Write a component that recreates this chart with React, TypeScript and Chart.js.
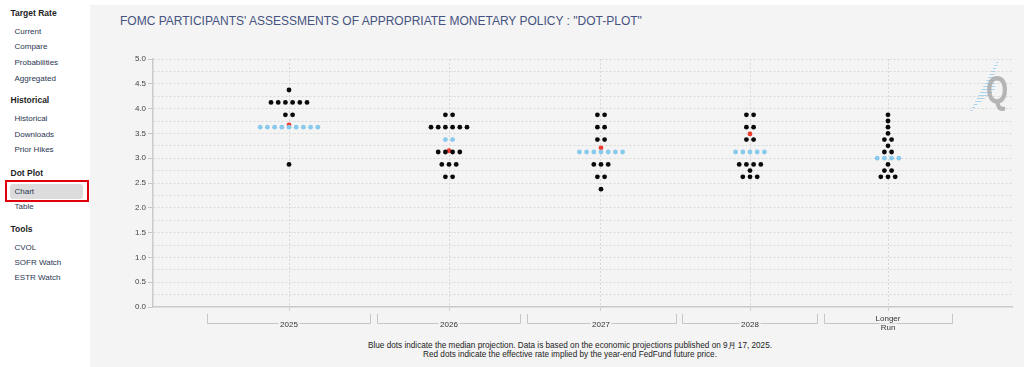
import React, { useEffect, useRef } from 'react';
import { Chart, registerables } from 'chart.js';

Chart.register(...registerables);

// ---- Data ----
const categories = ['2025', '2026', '2027', '2028', 'Longer Run'];
// category centre positions on the (linear) x axis, and bracket extents
const categoryCenters = [136, 296, 448, 597, 735];
const bracketStart = [54, 224, 374, 529, 671];
const bracketEnd = [217, 367, 523, 664, 799];

// participants' dots (non-median rows): rate levels and how many dots at each
const rates2025 = [4.375, 4.125, 3.875, 2.875];
const counts2025 = [1, 6, 2, 1];
const rates2026 = [3.875, 3.625, 3.125, 2.875, 2.625];
const counts2026 = [2, 6, 4, 3, 2];
const rates2027 = [3.875, 3.625, 3.375, 2.875, 2.625, 2.375];
const counts2027 = [2, 2, 2, 3, 2, 1];
const rates2028 = [3.875, 3.625, 3.375, 2.875, 2.75, 2.625];
const counts2028 = [2, 2, 2, 4, 1, 3];
const ratesLonger = [3.875, 3.75, 3.625, 3.5, 3.375, 3.25, 3.125, 2.875, 2.75, 2.625];
const countsLonger = [1, 1, 1, 1, 2, 1, 2, 1, 2, 3];

// median rows (blue)
const medianRates = [3.625, 3.375, 3.125, 3.125, 3.0];
const medianCounts = [9, 2, 7, 5, 4];

// effective rate implied by year-end fed fund futures (red)
const futuresRates: (number | null)[] = [3.67, 3.15, 3.21, 3.49, null];

const yMin = 0;
const yMax = 5;
const yStep = 0.25;
const xMax = 859;
const DOT_STEP = 7.2;

const sidebarHeaders = [
  { text: 'Target Rate', y: 13 },
  { text: 'Historical', y: 100 },
  { text: 'Dot Plot', y: 172.5 },
  { text: 'Tools', y: 229 },
];
const sidebarItems = [
  { text: 'Current', y: 32 },
  { text: 'Compare', y: 47 },
  { text: 'Probabilities', y: 62.5 },
  { text: 'Aggregated', y: 78.5 },
  { text: 'Historical', y: 119 },
  { text: 'Downloads', y: 134.5 },
  { text: 'Prior Hikes', y: 149.5 },
  { text: 'Chart', y: 191.5 },
  { text: 'Table', y: 206.5 },
  { text: 'CVOL', y: 248 },
  { text: 'SOFR Watch', y: 263 },
  { text: 'ESTR Watch', y: 278 },
];

const titleText = 'FOMC PARTICIPANTS\' ASSESSMENTS OF APPROPRIATE MONETARY POLICY : "DOT-PLOT"';
const footer1 = 'Blue dots indicate the median projection. Data is based on the economic projections published on 9月 17, 2025.';
const footer2 = 'Red dots indicate the effective rate implied by the year-end FedFund future price.';

const PANEL_BG = '#f4f4f4';
const FONT = 'Arial, "Liberation Sans", Helvetica, sans-serif';

function rowPoints(center: number, rate: number, count: number) {
  const pts: { x: number; y: number }[] = [];
  for (let k = 0; k < count; k++) {
    pts.push({ x: center + (k - (count - 1) / 2) * DOT_STEP, y: rate });
  }
  return pts;
}

const allRates = [rates2025, rates2026, rates2027, rates2028, ratesLonger];
const allCounts = [counts2025, counts2026, counts2027, counts2028, countsLonger];

const bracketPlugin = {
  id: 'brackets',
  afterDraw(chart: any) {
    const ctx: CanvasRenderingContext2D = chart.ctx;
    const xs = chart.scales.x;
    const bottom = chart.chartArea.bottom;
    ctx.save();
    // brackets
    ctx.strokeStyle = '#c6c6c6';
    ctx.lineWidth = 1;
    categories.forEach((c, i) => {
      const x1 = Math.round(xs.getPixelForValue(bracketStart[i])) + 0.5;
      const x2 = Math.round(xs.getPixelForValue(bracketEnd[i])) + 0.5;
      const yTop = bottom + 7;
      const yLine = bottom + 16.5;
      ctx.beginPath();
      ctx.moveTo(x1, yTop);
      ctx.lineTo(x1, yLine);
      ctx.lineTo(x2, yLine);
      ctx.lineTo(x2, yTop);
      ctx.stroke();
      const lines = c.split(' ');
      ctx.font = '8px ' + FONT;
      ctx.textAlign = 'center';
      ctx.textBaseline = 'middle';
      const cx = xs.getPixelForValue(categoryCenters[i]);
      lines.forEach((ln, j) => {
        const w = ctx.measureText(ln).width;
        const ly = lines.length === 1 ? yLine + 1 : yLine - 4.5 + j * 8.5;
        ctx.fillStyle = PANEL_BG;
        ctx.fillRect(cx - w / 2 - 1.5, ly - 4, w + 3, 8);
        ctx.fillStyle = '#333';
        ctx.fillText(ln, cx, ly);
      });
    });
    // watermark logo
    const ca = chart.chartArea;
    const lx = ca.right - 14;
    const ly0 = ca.top + 3;
    ctx.fillStyle = 'rgba(140,200,235,0.7)';
    const lens = [2, 3, 3, 4, 5, 6, 8, 10, 12, 13, 12, 10, 8, 6, 4, 3, 2];
    lens.forEach((L, k) => {
      const yy = ly0 + k * 3;
      const xx = lx - k * 1.6;
      ctx.fillRect(xx - 2, yy, L, 1);
    });
    ctx.save();
    ctx.translate(ca.right - 26, ca.top + 44);
    ctx.scale(0.75, 1);
    ctx.font = 'bold 38px ' + FONT;
    ctx.fillStyle = 'rgba(165,165,165,0.8)';
    ctx.textAlign = 'left';
    ctx.textBaseline = 'alphabetic';
    ctx.fillText('Q', 0, 0);
    ctx.restore();
    ctx.restore();
  },
};

function DotPlot() {
  const ref = useRef<HTMLCanvasElement | null>(null);
  useEffect(() => {
    if (!ref.current) return;
    const black: { x: number; y: number }[] = [];
    const blue: { x: number; y: number }[] = [];
    const red: { x: number; y: number }[] = [];
    categories.forEach((_, i) => {
      allRates[i].forEach((r, j) => black.push(...rowPoints(categoryCenters[i], r, allCounts[i][j])));
      blue.push(...rowPoints(categoryCenters[i], medianRates[i], medianCounts[i]));
      const f = futuresRates[i];
      if (f !== null) red.push({ x: categoryCenters[i], y: f });
    });
    const pointCommon = { pointRadius: 2.4, pointHoverRadius: 2.4, pointBorderWidth: 0, showLine: false };
    const chart = new Chart(ref.current, {
      type: 'scatter',
      data: {
        datasets: [
          { label: 'Participants', data: black, pointBackgroundColor: '#0a0a0a', backgroundColor: '#0a0a0a', ...pointCommon },
          { label: 'Median', data: blue, pointBackgroundColor: '#88c9ec', backgroundColor: '#88c9ec', ...pointCommon },
          { label: 'Futures', data: red, pointBackgroundColor: '#ee3b2e', backgroundColor: '#ee3b2e', ...pointCommon },
        ],
      },
      options: {
        responsive: false,
        animation: false,
        devicePixelRatio: 1,
        layout: { padding: { left: 0, right: 12, top: 29, bottom: 0 } },
        plugins: { legend: { display: false }, tooltip: { enabled: false } },
        scales: {
          x: {
            type: 'linear',
            min: 0,
            max: xMax,
            afterBuildTicks: (s: any) => {
              s.ticks = categoryCenters.map((v) => ({ value: v }));
            },
            ticks: { display: false },
            grid: { color: '#d9d9d9', tickLength: 4, tickColor: '#d0d0d0', lineWidth: 1 },
            border: { display: true, color: '#cacaca', width: 1.5, dash: [2, 2] },
            afterFit: (s: any) => {
              s.height = 28;
            },
          },
          y: {
            type: 'linear',
            min: yMin,
            max: yMax,
            ticks: {
              stepSize: yStep,
              autoSkip: false,
              padding: 2,
              color: '#444',
              font: { size: 8, family: FONT },
              callback: (v: any) => (Math.round(Number(v) * 4) % 2 === 0 ? Number(v).toFixed(1) : ''),
            },
            grid: {
              color: (c: any) => (c.tick && c.tick.value === 0 ? 'rgba(0,0,0,0)' : '#d9d9d9'),
              tickColor: (c: any) =>
                c.tick && Math.round(c.tick.value * 4) % 2 === 0 ? '#c6c6c6' : 'rgba(0,0,0,0)',
              tickLength: 5,
              lineWidth: 1,
            },
            border: { display: true, color: '#cacaca', width: 1.5, dash: [2, 2] },
            afterFit: (s: any) => {
              s.width = 63;
            },
          },
        },
      },
      plugins: [bracketPlugin],
    } as any);
    return () => chart.destroy();
  }, []);
  return <canvas ref={ref} width={934} height={305} style={{ display: 'block', width: 934, height: 305 }} />;
}

export default function App() {
  return (
    <div
      style={{
        position: 'fixed',
        left: 0,
        top: 0,
        width: 1024,
        height: 367,
        background: '#fff',
        fontFamily: FONT,
        overflow: 'hidden',
      }}
    >
      {sidebarHeaders.map((h) => (
        <div
          key={h.text + h.y}
          style={{
            position: 'absolute',
            left: 10.5,
            top: h.y - 6,
            lineHeight: '12px',
            fontSize: 8.5,
            fontWeight: 'bold',
            color: '#1e1e1e',
            whiteSpace: 'nowrap',
          }}
        >
          {h.text}
        </div>
      ))}
      <div
        style={{
          position: 'absolute',
          left: 10,
          top: 184,
          width: 73,
          height: 15,
          background: '#dcdcdc',
          borderRadius: 3,
        }}
      />
      <div
        style={{
          position: 'absolute',
          left: 5,
          top: 180,
          width: 80,
          height: 18,
          border: '2px solid #e0000b',
        }}
      />
      {sidebarItems.map((it) => (
        <div
          key={it.text + it.y}
          style={{
            position: 'absolute',
            left: 14.5,
            top: it.y - 6,
            lineHeight: '12px',
            fontSize: 8,
            color: '#2a3550',
            whiteSpace: 'nowrap',
          }}
        >
          {it.text}
        </div>
      ))}
      <div style={{ position: 'absolute', left: 90, top: 5, width: 934, height: 362, background: PANEL_BG }} />
      <div
        style={{
          position: 'absolute',
          left: 120,
          top: 21 - 8,
          lineHeight: '16px',
          fontSize: 12,
          color: '#465380',
          whiteSpace: 'nowrap',
        }}
      >
        {titleText}
      </div>
      <div style={{ position: 'absolute', left: 90, top: 30 }}>
        <DotPlot />
      </div>
      <div
        style={{
          position: 'absolute',
          left: 270,
          width: 600,
          top: 345.5 - 5,
          lineHeight: '10px',
          fontSize: 8.2,
          color: '#222',
          textAlign: 'center',
          whiteSpace: 'nowrap',
        }}
      >
        {footer1}
      </div>
      <div
        style={{
          position: 'absolute',
          left: 270,
          width: 600,
          top: 354.5 - 5,
          lineHeight: '10px',
          fontSize: 8.2,
          color: '#222',
          textAlign: 'center',
          whiteSpace: 'nowrap',
        }}
      >
        {footer2}
      </div>
    </div>
  );
}
